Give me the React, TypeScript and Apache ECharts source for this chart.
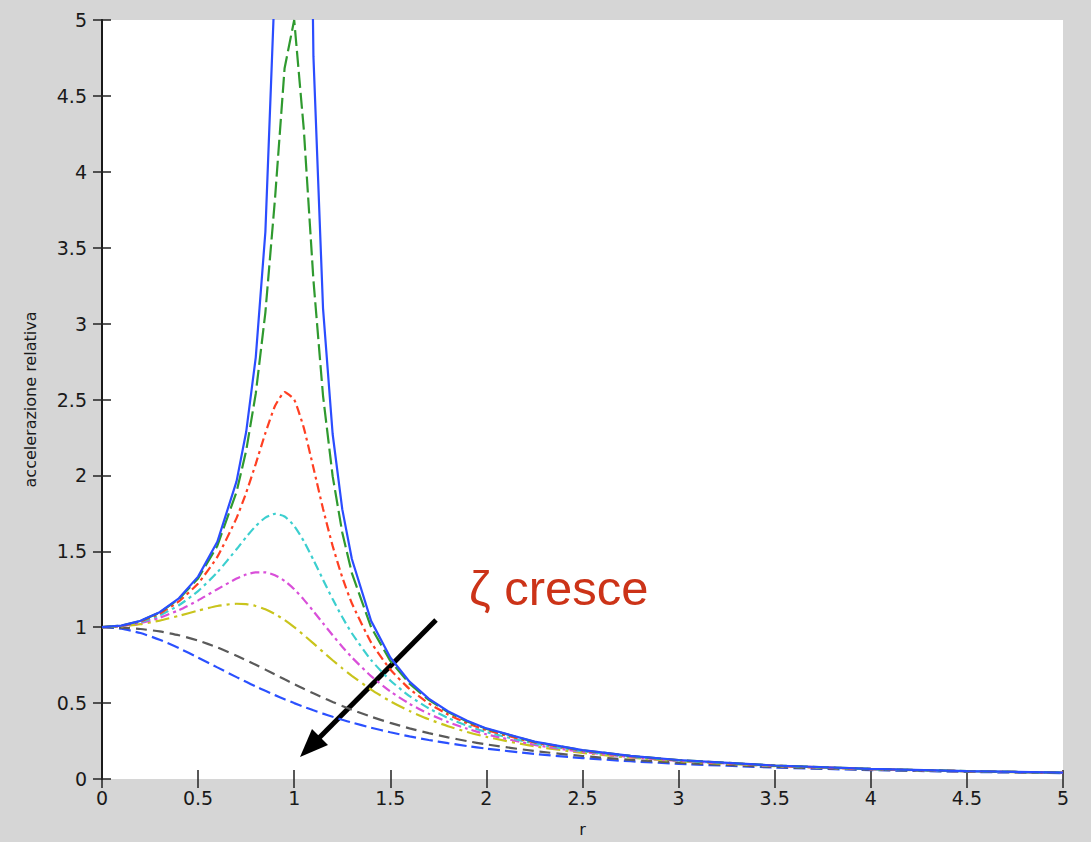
import React, { useEffect, useRef } from "react";
import * as echarts from "echarts";

// frequency ratio r
const rValues = [0, 0.1, 0.2, 0.3, 0.4, 0.5, 0.6, 0.7, 0.75, 0.8, 0.85, 0.9, 0.95, 1, 1.05, 1.1, 1.15, 1.2, 1.25, 1.3, 1.4, 1.5, 1.6, 1.7, 1.8, 1.9, 2, 2.25, 2.5, 2.75, 3, 3.5, 4, 4.5, 5];

// relative acceleration for increasing damping (zeta)
const zeta0 = [1, 1.0101, 1.0417, 1.0989, 1.1905, 1.3333, 1.5625, 1.9608, 2.2857, 2.7778, 3.6036, 5.2632, 10.256, null, 9.756, 4.7619, 3.1008, 2.2727, 1.7778, 1.4493, 1.0417, 0.8, 0.641, 0.5291, 0.4464, 0.3831, 0.3333, 0.2462, 0.1905, 0.1524, 0.125, 0.0889, 0.0667, 0.0519, 0.0417];
const zeta01 = [1, 1.0099, 1.0408, 1.0965, 1.1851, 1.3216, 1.5357, 1.8908, 2.1621, 2.5384, 3.0728, 3.8208, 4.6826, 5.0, 4.2794, 3.288, 2.5245, 1.9952, 1.6245, 1.3562, 1.0, 0.7779, 0.6279, 0.5208, 0.4408, 0.3791, 0.3304, 0.2447, 0.1896, 0.1518, 0.1246, 0.0887, 0.0666, 0.0519, 0.0416];
const zeta02 = [1, 1.0093, 1.0381, 1.0895, 1.1695, 1.2883, 1.463, 1.7188, 1.8851, 2.0761, 2.2786, 2.4566, 2.549, 2.5, 2.313, 2.0511, 1.78, 1.5357, 1.3287, 1.1574, 0.8998, 0.7212, 0.5931, 0.4979, 0.425, 0.3679, 0.3221, 0.2403, 0.1871, 0.1503, 0.1236, 0.0882, 0.0663, 0.0517, 0.0415];
const zeta03 = [1, 1.0082, 1.0336, 1.078, 1.1447, 1.238, 1.3618, 1.5136, 1.5933, 1.6667, 1.7223, 1.7469, 1.7293, 1.6667, 1.5667, 1.4438, 1.3129, 1.1851, 1.0667, 0.9602, 0.7839, 0.6492, 0.5459, 0.4656, 0.4021, 0.3511, 0.3095, 0.2336, 0.1831, 0.1478, 0.122, 0.0874, 0.0658, 0.0514, 0.0413];
const zeta04 = [1, 1.0068, 1.0275, 1.0626, 1.1125, 1.1765, 1.25, 1.3203, 1.3467, 1.3618, 1.3616, 1.3429, 1.3051, 1.25, 1.1817, 1.1053, 1.0258, 0.9469, 0.8716, 0.8012, 0.6779, 0.5771, 0.4956, 0.4295, 0.3755, 0.3311, 0.2941, 0.2251, 0.178, 0.1445, 0.1197, 0.0863, 0.0652, 0.0511, 0.0411];
const zeta05 = [1, 1.005, 1.0198, 1.0437, 1.0748, 1.1094, 1.1399, 1.1546, 1.1517, 1.1399, 1.1184, 1.0871, 1.0471, 1.0, 0.9479, 0.893, 0.8373, 0.7824, 0.7295, 0.6795, 0.5891, 0.5121, 0.4475, 0.3934, 0.348, 0.3098, 0.2774, 0.2153, 0.172, 0.1405, 0.117, 0.0849, 0.0644, 0.0506, 0.0408];
const zeta08 = [1, 0.9972, 0.9882, 0.972, 0.947, 0.9119, 0.8667, 0.8126, 0.7829, 0.7521, 0.7205, 0.6885, 0.6565, 0.625, 0.5941, 0.5642, 0.5353, 0.5077, 0.4813, 0.4563, 0.4103, 0.3696, 0.3336, 0.3019, 0.2741, 0.2496, 0.228, 0.1842, 0.1515, 0.1266, 0.1072, 0.0796, 0.0613, 0.0487, 0.0395];
const zeta10 = [1, 0.9901, 0.9615, 0.9174, 0.8621, 0.8, 0.7353, 0.6711, 0.64, 0.6098, 0.5806, 0.5525, 0.5256, 0.5, 0.4756, 0.4525, 0.4306, 0.4098, 0.3902, 0.3717, 0.3378, 0.3077, 0.2809, 0.2571, 0.2358, 0.2169, 0.2, 0.1649, 0.1379, 0.1168, 0.1, 0.0755, 0.0588, 0.0471, 0.0385];

const axisTicks = [0, 0.5, 1, 1.5, 2, 2.5, 3, 3.5, 4, 4.5, 5];

const curves = [
  { name: "ζ=1", values: zeta10, color: "#2a50ff", dash: [12, 5], smooth: 0.2 },
  { name: "ζ=0.8", values: zeta08, color: "#5a5a5a", dash: [11, 6], smooth: 0.2 },
  { name: "ζ=0.5", values: zeta05, color: "#c9c41c", dash: [14, 5, 3, 5], smooth: 0.2 },
  { name: "ζ=0.4", values: zeta04, color: "#d94fd9", dash: [9, 4, 3, 4], smooth: 0.2 },
  { name: "ζ=0.3", values: zeta03, color: "#3ccfcf", dash: [9, 4, 3, 4], smooth: 0.2 },
  { name: "ζ=0.2", values: zeta02, color: "#ff3f22", dash: [9, 4, 3, 4], smooth: 0.15 },
  { name: "ζ=0.1", values: zeta01, color: "#2f9a2f", dash: [16, 5], smooth: false },
  { name: "ζ=0", values: zeta0, color: "#2b4dff", dash: "solid", smooth: false },
];

export default function App() {
  const ref = useRef<HTMLDivElement>(null);
  useEffect(() => {
    document.body.style.margin = "0";
    const chart = echarts.init(ref.current!, null, { renderer: "svg" });
    const labelStyle = { fontFamily: "DejaVu Sans", fontSize: 19, color: "#1a1a1a" };
    const tickStyle = { show: true, inside: true, length: 9, lineStyle: { color: "#222", width: 1.5 } };
    chart.setOption({
      animation: false,
      backgroundColor: "#d6d6d6",
      grid: { left: 102, right: 28, top: 20, bottom: 62, show: true, backgroundColor: "#ffffff", borderWidth: 0 },
      xAxis: [
        {
          type: "value", min: 0, max: 5, interval: 0.5, position: "bottom",
          axisLine: { show: false },
          axisTick: tickStyle,
          axisLabel: { ...labelStyle, margin: 9, formatter: (v: number) => (axisTicks.includes(v) ? String(v) : "") },
          splitLine: { show: false },
          name: "r", nameLocation: "middle", nameGap: 42,
          nameTextStyle: { fontFamily: "DejaVu Sans", fontSize: 16, color: "#1a1a1a" },
        },
        {
          type: "value", min: 0, max: 5, interval: 0.5, position: "top",
          axisLine: { show: false }, axisTick: tickStyle, axisLabel: { show: false }, splitLine: { show: false },
        },
      ],
      yAxis: [
        {
          type: "value", min: 0, max: 5, interval: 0.5, position: "left",
          axisLine: { show: true, lineStyle: { color: "#1a1a1a", width: 2 } },
          axisTick: tickStyle,
          axisLabel: { ...labelStyle, margin: 15 },
          splitLine: { show: false },
          name: "accelerazione relativa", nameLocation: "middle", nameGap: 64,
          nameTextStyle: { fontFamily: "DejaVu Sans", fontSize: 16, color: "#1a1a1a" },
        },
        {
          type: "value", min: 0, max: 5, interval: 0.5, position: "right",
          axisLine: { show: true, lineStyle: { color: "#1a1a1a", width: 2 } },
          axisTick: tickStyle, axisLabel: { show: false }, splitLine: { show: false },
        },
      ],
      series: curves.map((c) => ({
        name: c.name,
        type: "line",
        xAxisIndex: 0,
        yAxisIndex: 0,
        data: rValues.map((r, i) => [r, c.values[i]]),
        showSymbol: false,
        smooth: c.smooth,
        clip: true,
        connectNulls: false,
        lineStyle: { color: c.color, width: 2.2, type: c.dash },
      })),
      graphic: [
        {
          type: "text", left: 469, top: 563,
          style: { text: "ζ cresce", fill: "#cc3318", font: "49px 'Liberation Sans', sans-serif" },
        },
        {
          type: "line",
          shape: { x1: 436, y1: 620, x2: 318, y2: 739 },
          style: { stroke: "#000", lineWidth: 5 },
        },
        {
          type: "polygon",
          shape: { points: [[300, 757], [328, 745], [312, 729]] },
          style: { fill: "#000" },
        },
      ],
    });
    return () => chart.dispose();
  }, []);
  return <div ref={ref} style={{ position: "fixed", left: 0, top: 0, width: 1091, height: 842 }} />;
}
